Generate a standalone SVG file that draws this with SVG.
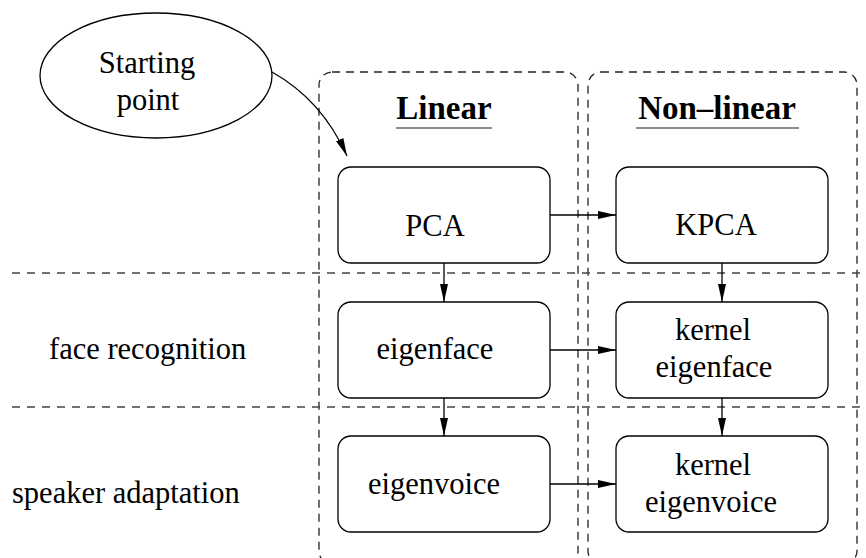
<svg xmlns="http://www.w3.org/2000/svg" width="866" height="558" viewBox="0 0 866 558">
  <style>
    text { font-family: "Liberation Serif", "Times New Roman", serif; fill: #000; }
    .lbl { font-size: 30.5px; }
    .head { font-size: 33px; font-weight: bold; }
    .box { fill: #fff; stroke: #000; stroke-width: 1.3; }
    .region { fill: none; stroke: #222; stroke-width: 1.3; stroke-dasharray: 8 6; }
    .sep { fill: none; stroke: #444; stroke-width: 1.3; stroke-dasharray: 8 7; }
    .ul { stroke: #666; stroke-width: 1.6; }
    .edge { fill: none; stroke: #000; stroke-width: 1.3; marker-end: url(#arrow); }
  </style>
  <defs>
    <marker id="arrow" markerUnits="userSpaceOnUse" markerWidth="18" markerHeight="8" refX="18" refY="4" orient="auto">
      <path d="M0,0 L18,4 L0,8 z" fill="#000"/>
    </marker>
  </defs>

  <rect width="866" height="558" fill="#fff"/>

  <!-- Column frames -->
  <g id="col-linear">
    <rect class="region" x="319" y="72" width="259" height="492" rx="13" ry="13"/>
    <text class="head" x="444" y="119" text-anchor="middle">Linear</text>
    <line class="ul" x1="396" y1="128" x2="492" y2="128"/>
  </g>
  <g id="col-nonlinear">
    <rect class="region" x="588" y="72" width="269" height="492" rx="13" ry="13"/>
    <text class="head" x="717" y="119" text-anchor="middle">Non–linear</text>
    <line class="ul" x1="636" y1="128" x2="799" y2="128"/>
  </g>

  <!-- Row separators and row labels -->
  <g id="rows">
    <line class="sep" x1="12" y1="273" x2="866" y2="273"/>
    <line class="sep" x1="12" y1="407" x2="866" y2="407"/>
    <text class="lbl" x="49" y="359">face recognition</text>
    <text class="lbl" x="12" y="503">speaker adaptation</text>
  </g>

  <!-- Connectors -->
  <g id="connectors">
    <path class="edge" d="M272,72 Q322,100 347,156"/>
    <line class="edge" x1="550" y1="215" x2="616" y2="215"/>
    <line class="edge" x1="550" y1="350" x2="616" y2="350"/>
    <line class="edge" x1="550" y1="484" x2="616" y2="484"/>
    <line class="edge" x1="444" y1="263" x2="444" y2="302"/>
    <line class="edge" x1="444" y1="398" x2="444" y2="436"/>
    <line class="edge" x1="722" y1="263" x2="722" y2="302"/>
    <line class="edge" x1="722" y1="398" x2="722" y2="436"/>
  </g>

  <!-- Nodes -->
  <g id="start">
    <ellipse cx="156" cy="75.5" rx="116" ry="62.5" fill="#fff" stroke="#000" stroke-width="1.3"/>
    <text class="lbl" x="147" y="73" text-anchor="middle">Starting</text>
    <text class="lbl" x="148" y="110" text-anchor="middle">point</text>
  </g>
  <g id="pca">
    <rect class="box" x="338" y="167" width="212" height="96" rx="13" ry="13"/>
    <text class="lbl" x="435" y="236" text-anchor="middle">PCA</text>
  </g>
  <g id="kpca">
    <rect class="box" x="616" y="167" width="212" height="96" rx="13" ry="13"/>
    <text class="lbl" x="716" y="235" text-anchor="middle">KPCA</text>
  </g>
  <g id="eigenface">
    <rect class="box" x="338" y="302" width="212" height="96" rx="13" ry="13"/>
    <text class="lbl" x="435" y="359" text-anchor="middle">eigenface</text>
  </g>
  <g id="kernel-eigenface">
    <rect class="box" x="616" y="302" width="212" height="96" rx="13" ry="13"/>
    <text class="lbl" x="713" y="340" text-anchor="middle">kernel</text>
    <text class="lbl" x="714" y="377" text-anchor="middle">eigenface</text>
  </g>
  <g id="eigenvoice">
    <rect class="box" x="338" y="436" width="212" height="96" rx="13" ry="13"/>
    <text class="lbl" x="434" y="494" text-anchor="middle">eigenvoice</text>
  </g>
  <g id="kernel-eigenvoice">
    <rect class="box" x="616" y="436" width="212" height="96" rx="13" ry="13"/>
    <text class="lbl" x="713" y="475" text-anchor="middle">kernel</text>
    <text class="lbl" x="711" y="512" text-anchor="middle">eigenvoice</text>
  </g>
</svg>
